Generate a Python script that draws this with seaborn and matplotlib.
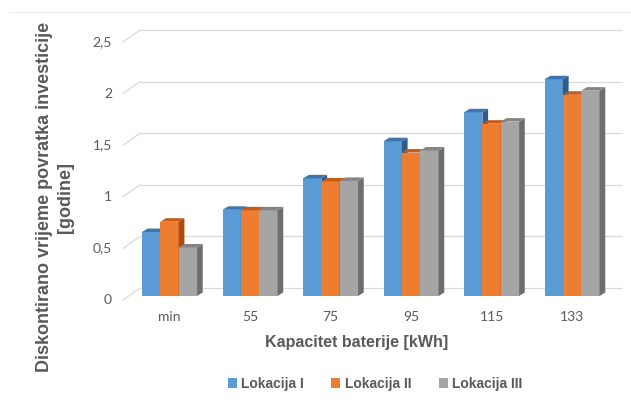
import numpy as np
import pandas as pd
import matplotlib
matplotlib.use("Agg")
import matplotlib.pyplot as plt
import seaborn as sns
from matplotlib.patches import Polygon, Patch
from matplotlib.lines import Line2D
from matplotlib.colors import to_rgb

# Data
kapacitet = ["min", "55", "75", "95", "115", "133"]
lokacija_1 = [0.62, 0.835, 1.14, 1.50, 1.78, 2.10]
lokacija_2 = [0.72, 0.83, 1.11, 1.39, 1.67, 1.95]
lokacija_3 = [0.47, 0.83, 1.115, 1.41, 1.69, 1.99]
serije = ["Lokacija I", "Lokacija II", "Lokacija III"]
y_ticks = [0, 0.5, 1, 1.5, 2, 2.5]
y_tick_labels = ["0", "0,5", "1", "1,5", "2", "2,5"]

boje = ["#5B9BD5", "#ED7D31", "#A5A5A5"]
boje_vrh = ["#3D76AE", "#C65B15", "#858585"]
boje_bok = ["#2F5D8A", "#A84C10", "#6E6E6E"]
siva_tekst = "#595959"

df = pd.DataFrame({
    "Kapacitet": kapacitet * 3,
    "Lokacija": np.repeat(serije, len(kapacitet)),
    "Vrijednost": lokacija_1 + lokacija_2 + lokacija_3,
})

sns.set_theme(style="white")
plt.rcParams["font.family"] = ["Liberation Sans", "DejaVu Sans"]

W, H = 631, 403
fig = plt.figure(figsize=(W / 100, H / 100), dpi=100)
fig.patch.set_facecolor("white")

# front plane of the columns (pixel geometry of the plot area)
ax_left, ax_right, floor_px, top_px = 123, 622, 296, 38
ax = fig.add_axes([ax_left / W, (H - floor_px) / H,
                   (ax_right - ax_left) / W, (floor_px - top_px) / H])
ax.set_facecolor("none")

sns.barplot(data=df, x="Kapacitet", y="Vrijednost", hue="Lokacija",
            order=kapacitet, hue_order=serije, palette=boje,
            saturation=1, width=0.683, errorbar=None, legend=False,
            linewidth=0, edgecolor="none", ax=ax)

xlo, xhi = -0.578, 5.62
ax.set_xlim(xlo, xhi)
ax.set_ylim(0, 2.5)
px_x = (ax_right - ax_left) / (xhi - xlo)
px_y = (floor_px - top_px) / 2.5

# depth of the columns (side and top faces)
dx, dy = 5.7 / px_x, 3.5 / px_y
for bar in list(ax.patches):
    fc = np.array(bar.get_facecolor()[:3])
    k = int(np.argmin([np.sum((fc - np.array(to_rgb(c))) ** 2) for c in boje]))
    x0 = bar.get_x()
    x1 = x0 + bar.get_width()
    h = bar.get_height()
    bar.set_zorder(1.5 + 2 * k)
    ax.add_patch(Polygon([(x1, 0), (x1 + dx, dy), (x1 + dx, h + dy), (x1, h)],
                         closed=True, fc=boje_bok[k], ec="none", zorder=2 + 2 * k))
    ax.add_patch(Polygon([(x0, h), (x1, h), (x1 + dx, h + dy), (x0 + dx, h + dy)],
                         closed=True, fc=boje_vrh[k], ec="none", zorder=2 + 2 * k))

# back wall gridlines and the slanted tick connectors
back_dx, back_dy = 17 / px_x, 8 / px_y
front_dy = -4 / px_y
grid_col = "#D9D9D9"
for v, lab in zip(y_ticks, y_tick_labels):
    ax.plot([xlo + back_dx, xhi], [v + back_dy, v + back_dy], color=grid_col,
            lw=0.9, zorder=0.5, clip_on=False, solid_capstyle="butt")
    ax.plot([xlo, xlo + back_dx], [v + front_dy, v + back_dy], color=grid_col,
            lw=0.9, zorder=0.5, clip_on=False)
    ax.text(xlo - 11 / px_x, v + front_dy, lab, ha="right", va="center",
            fontsize=10, color=siva_tekst, family=["Lato", "DejaVu Sans"])

ax.set_yticks([])
ax.tick_params(axis="x", length=0, pad=11, labelsize=10, labelcolor=siva_tekst)
for t in ax.get_xticklabels():
    t.set_fontfamily(["Lato", "DejaVu Sans"])
ax.set_xlabel("")
ax.set_ylabel("")
for s in ax.spines.values():
    s.set_visible(False)

# axis titles
fig.text(357 / W, 1 - 343 / H, "Kapacitet baterije [kWh]", ha="center", va="center",
         fontsize=11.5, fontweight="bold", color=siva_tekst)
fig.text(55 / W, 1 - 197 / H, "Diskontirano vrijeme povratka investicije\n[godine]",
         ha="center", va="center", rotation=90, fontsize=13, fontweight="bold",
         color=siva_tekst, linespacing=1.3, multialignment="center")

# legend
handles = [Patch(facecolor=c, edgecolor="none", label=s) for c, s in zip(boje, serije)]
leg = fig.legend(handles=handles, loc="center", ncol=3, frameon=False,
                 bbox_to_anchor=(375 / W, 1 - 384 / H), handlelength=0.65,
                 handleheight=0.65, handletextpad=0.3, columnspacing=2.0,
                 prop={"size": 10, "weight": "bold"})
for t in leg.get_texts():
    t.set_color(siva_tekst)

# faint chart border at the top
fig.add_artist(Line2D([9 / W, 1], [1 - 12 / H, 1 - 12 / H], color="#EFEFEF", lw=0.8))

fig.savefig("out.png", dpi=100, facecolor="white")
